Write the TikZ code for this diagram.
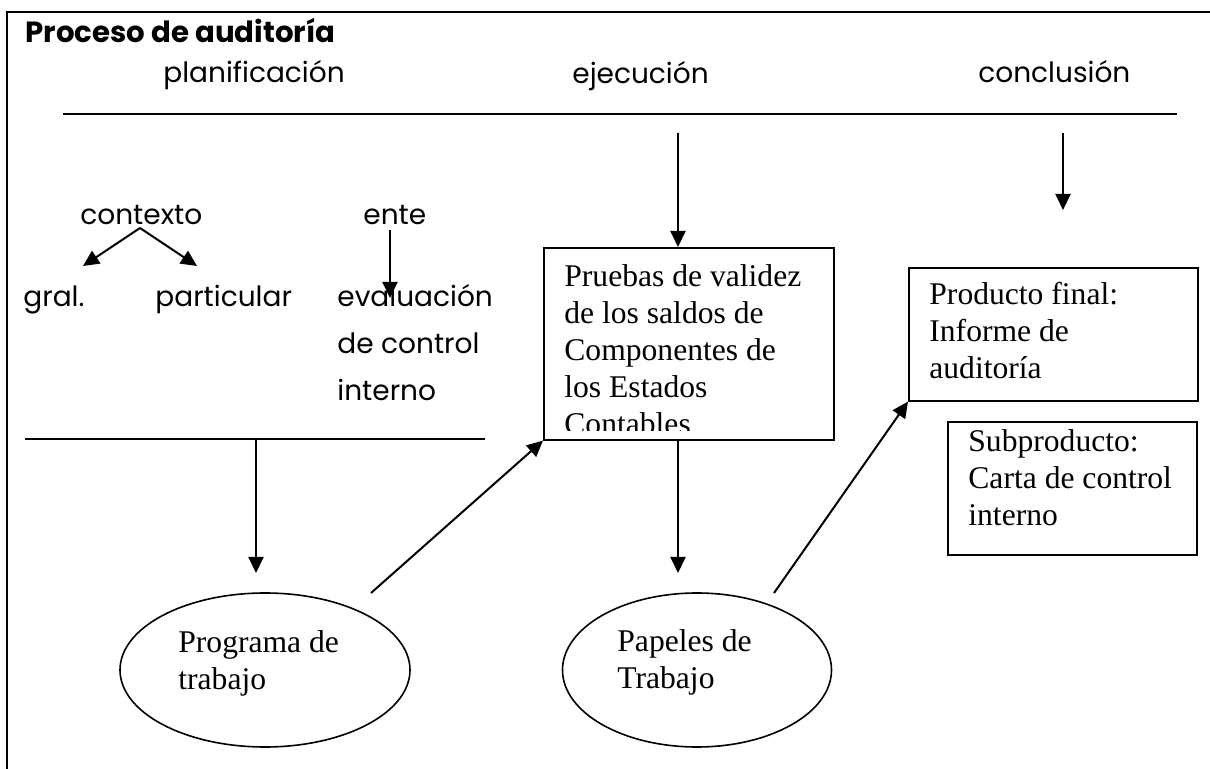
\documentclass[tikz,border=0pt]{standalone}
\usepackage{fontspec}
\setmainfont{Liberation Serif}
\newfontfamily\comic{Poppins}
\usetikzlibrary{arrows.meta,shapes.geometric}
\begin{document}
\begin{tikzpicture}[x=0.5pt,y=-0.5pt,
  arr/.style={line width=1pt,-{Triangle[length=8pt,width=7.5pt]}},
  hand/.style={font=\comic\fontsize{14}{23.5}\selectfont, inner sep=0pt, anchor=base west},
  serif/.style={font=\fontsize{15.8}{18.4}\selectfont, inner sep=0pt, anchor=base west},
  boxed/.style={draw, line width=0.8pt, rectangle, inner sep=0pt, anchor=north west},
  oval/.style={draw, ellipse, line width=0.8pt, inner sep=0pt},
  rulel/.style={line width=1pt}]
\useasboundingbox (0,0) rectangle (1210,769);
\fill[white] (0,0) rectangle (1210,769);
% frame
\draw[line width=1.3pt] (1210,12) -- (7,12) -- (7,769);
% title and phases
\node[hand, font=\comic\bfseries\fontsize{14.6}{18}\selectfont] (title) at (25,43) {Proceso de auditoría};
\node[hand] (plan) at (163,83) {planificación};
\node[hand] (ejec) at (572,84) {ejecución};
\node[hand] (concl) at (978,83) {conclusión};
\draw[rulel] (63,114) -- (1177,114);
% planning part
\node[hand] (contexto) at (80,225) {contexto};
\node[hand] (ente) at (363,225) {ente};
\node[hand] (gral) at (23,307) {gral.};
\node[hand] (particular) at (155,307) {particular};
\node[hand] (evaluacion) at (337,307) {\parbox[t]{90pt}{evaluación\\de control\\interno}};
\coordinate (ctx) at (140,228);
\coordinate (ctxL) at (83,266);
\coordinate (ctxR) at (197,266);
\draw[arr] (ctx) -- (ctxL);
\draw[arr] (ctx) -- (ctxR);
\coordinate (ente1) at (390,230);
\coordinate (ente2) at (390,298);
\draw[arr] (ente1) -- (ente2);
\draw[rulel] (25,439) -- (485,439);
\coordinate (p1) at (256,439);
\coordinate (p2) at (256,573);
\draw[arr] (p1) -- (p2);
% execution box
\node[boxed, minimum width=145pt, minimum height=96pt] (pruebas) at (543,247) {};
\begin{scope}
  \clip (543,247) rectangle (833,431);
  \node[serif] (pruebastxt) at (564,287) {\parbox[t]{140pt}{Pruebas de validez\\de los saldos de\\Componentes de\\los Estados\\Contables}};
\end{scope}
\coordinate (e1) at (678,133);
\draw[arr] (e1) -- (e1 |- pruebas.north);
% conclusion
\coordinate (c1) at (1063,133);
\coordinate (c2) at (1063,210);
\draw[arr] (c1) -- (c2);
\node[boxed, minimum width=144.5pt, minimum height=66.5pt] (producto) at (908,267) {};
\node[serif, font=\fontsize{15.8}{18.5}\selectfont] (productotxt) at (929,305) {\parbox[t]{130pt}{Producto final:\\Informe de\\auditoría}};
\node[boxed, minimum width=124.5pt, minimum height=66.5pt] (sub) at (947,421) {};
\node[serif, font=\fontsize{15.8}{18.5}\selectfont] (subtxt) at (968,452) {\parbox[t]{120pt}{Subproducto:\\Carta de control\\interno}};
% ellipses
\node[oval, minimum width=145pt, minimum height=77pt] (prog) at (265,670) {};
\node[serif, font=\fontsize{15.8}{18.5}\selectfont] (progtxt) at (178,653) {\parbox[t]{100pt}{Programa de\\trabajo}};
\node[oval, minimum width=134.5pt, minimum height=77pt] (pap) at (697,670) {};
\node[serif, font=\fontsize{15.8}{18.5}\selectfont] (paptxt) at (617,652) {\parbox[t]{100pt}{Papeles de\\Trabajo}};
% connectors
\coordinate (a1) at (371,593);
\draw[arr] (a1) -- (pruebas.south west);
\coordinate (b1) at (678,439);
\coordinate (b2) at (678,573);
\draw[arr] (b1) -- (b2);
\coordinate (d1) at (774,593);
\draw[arr] (d1) -- (producto.south west);
\end{tikzpicture}
\end{document}
